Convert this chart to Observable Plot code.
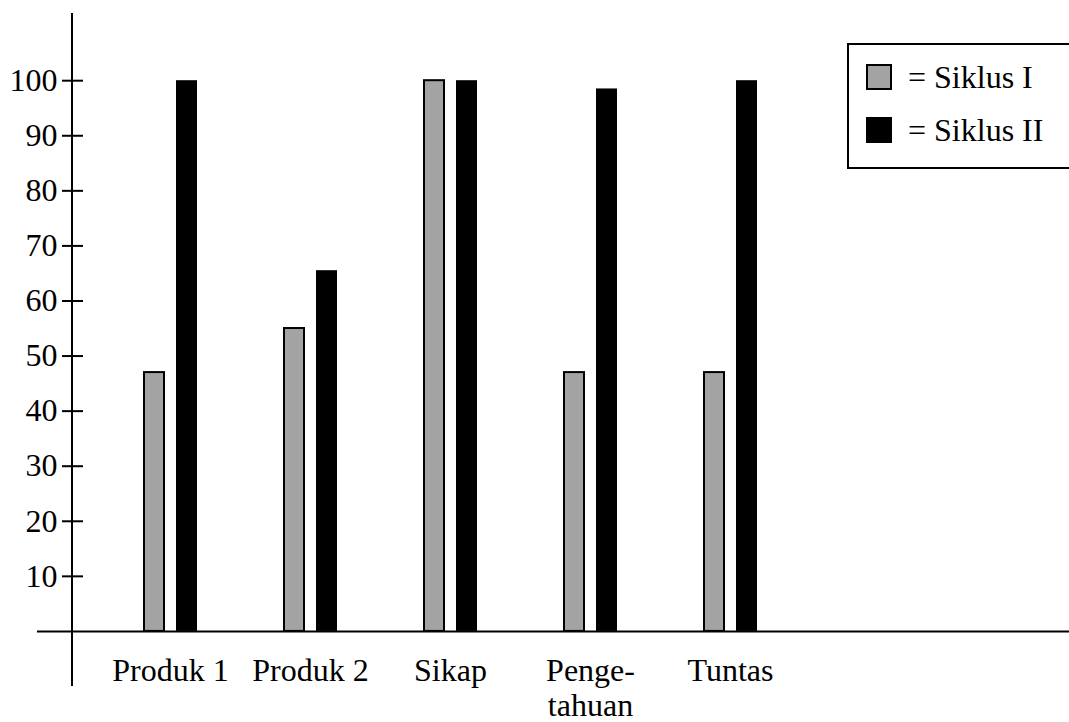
<!DOCTYPE html>
<html>
<head>
<meta charset="utf-8">
<script src="https://cdn.jsdelivr.net/npm/d3@7"></script>
<script src="https://cdn.jsdelivr.net/npm/@observablehq/plot@0.6"></script>
<style>
  html, body { margin: 0; padding: 0; background: #fff; overflow: hidden; }
  #wrap { position: relative; width: 1069px; height: 722px; overflow: hidden; }
  #legend {
    position: absolute; left: 847px; top: 43px; width: 240px; height: 122px;
    border: 2px solid #000; background: #fff;
    font-family: "Liberation Serif", "Times New Roman", serif; font-size: 32px; color: #000;
  }
  .item { position: absolute; left: 17px; display: flex; align-items: center; height: 30px; }
  .sw { width: 22px; height: 22px; border: 2px solid #000; margin-right: 16px; box-sizing: content-box; }
</style>
</head>
<body>
<div id="wrap">
  <div id="chart"></div>
  <div id="legend"></div>
</div>
<script>
const categories = ["Produk 1", "Produk 2", "Sikap", "Penge-\ntahuan", "Tuntas"];
const series = ["Siklus I", "Siklus II"];
const siklus1 = [47, 55, 100, 47, 47];
const siklus2 = [100, 65.5, 100, 98.5, 100];
const yTicks = [10, 20, 30, 40, 50, 60, 70, 80, 90, 100];
const colors = ["#a3a3a3", "#000000"];

const d1 = categories.map((c, i) => ({cat: c, value: siklus1[i]}));
const d2 = categories.map((c, i) => ({cat: c, value: siklus2[i]}));

const font = "'Liberation Serif', 'Times New Roman', serif";

const chart = Plot.plot({
  width: 1069,
  height: 722,
  marginLeft: 72,
  marginRight: 0,
  marginTop: 13,
  marginBottom: 36,
  style: {fontFamily: font, fontSize: "32px", color: "#000", background: "#fff"},
  x: {type: "band", domain: categories, range: [98, 801], padding: 0, label: null},
  y: {domain: [-10, 112.2], ticks: yTicks, label: null},
  marks: [
    Plot.barY(d1, {x: "cat", y: "value", fill: colors[0], stroke: "#000", strokeWidth: 2, insetLeft: 44, insetRight: 76}),
    Plot.barY(d2, {x: "cat", y: "value", fill: colors[1], insetLeft: 76, insetRight: 43}),
    Plot.ruleY([0], {stroke: "#000", strokeWidth: 2, insetLeft: -35}),
    Plot.axisY({ticks: yTicks, tickSize: 21, dx: 11, text: null, strokeWidth: 2, label: null}),
    Plot.axisY({ticks: yTicks, tickSize: 0, tickPadding: 15, fontSize: 32, fontFamily: font, label: null}),
    Plot.axisX({tickSize: 0, tickPadding: 0, dy: -31, fontSize: 32, fontFamily: font, lineHeight: 1.1, label: null})
  ]
});
document.getElementById("chart").appendChild(chart);

// vertical axis line along the left edge of the frame
d3.select(chart).append("line")
  .attr("x1", 72).attr("x2", 72)
  .attr("y1", 13).attr("y2", 686)
  .attr("stroke", "#000").attr("stroke-width", 2);

const legend = document.getElementById("legend");
series.forEach((s, i) => {
  const it = document.createElement("div");
  it.className = "item";
  it.style.top = (i === 0 ? 17 : 70) + "px";
  const sw = document.createElement("div");
  sw.className = "sw";
  sw.style.background = colors[i];
  const t = document.createElement("span");
  t.textContent = "= " + s;
  it.appendChild(sw);
  it.appendChild(t);
  legend.appendChild(it);
});
</script>
</body>
</html>
